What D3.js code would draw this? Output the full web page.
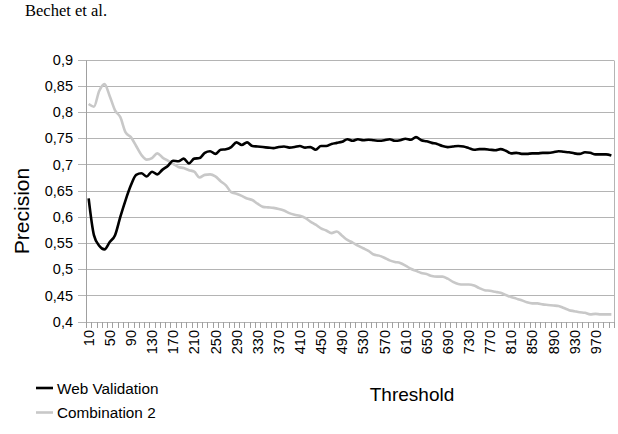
<!DOCTYPE html>
<html>
<head>
<meta charset="utf-8">
<script src="https://cdn.jsdelivr.net/npm/d3@7"></script>
<style>
  html, body { margin: 0; padding: 0; background: #fff; }
  svg { display: block; }
  text { font-family: "Liberation Sans", Arial, sans-serif; fill: #000; }
</style>
</head>
<body>
<svg id="chart" width="618" height="434"></svg>
<script>
// ---- data ----
const thresholds = d3.range(10, 1001, 10); // 10..1000
const webValidation = [
  0.635, 0.565, 0.545, 0.538, 0.552, 0.565, 0.600, 0.632, 0.660, 0.680,
  0.683, 0.677, 0.686, 0.681, 0.690, 0.697, 0.707, 0.706, 0.711, 0.702,
  0.711, 0.712, 0.722, 0.725, 0.720, 0.728, 0.729, 0.733, 0.742, 0.737,
  0.742, 0.735, 0.734, 0.733, 0.732, 0.731, 0.733, 0.734, 0.732, 0.733,
  0.735, 0.732, 0.733, 0.728, 0.735, 0.735, 0.739, 0.741, 0.743, 0.748,
  0.745, 0.748, 0.746, 0.747, 0.746, 0.745, 0.746, 0.748, 0.745, 0.746,
  0.749, 0.747, 0.752, 0.746, 0.744, 0.741, 0.739, 0.735, 0.733, 0.734,
  0.735, 0.734, 0.731, 0.728, 0.729, 0.729, 0.728, 0.727, 0.729, 0.726,
  0.721, 0.722, 0.720, 0.720, 0.721, 0.721, 0.722, 0.722, 0.723, 0.725,
  0.724, 0.723, 0.721, 0.720, 0.723, 0.722, 0.719, 0.719, 0.719, 0.717
];
const combination2 = [
  0.815, 0.810, 0.840, 0.853, 0.830, 0.803, 0.790, 0.761, 0.752, 0.735,
  0.718, 0.709, 0.712, 0.721, 0.713, 0.707, 0.701, 0.695, 0.693, 0.689,
  0.686, 0.675, 0.680, 0.681, 0.677, 0.668, 0.660, 0.647, 0.644, 0.640,
  0.635, 0.632, 0.625, 0.619, 0.618, 0.617, 0.615, 0.612, 0.607, 0.604,
  0.602, 0.598, 0.591, 0.585, 0.578, 0.574, 0.569, 0.572, 0.564, 0.556,
  0.551, 0.545, 0.540, 0.535, 0.528, 0.526, 0.522, 0.517, 0.514, 0.512,
  0.507, 0.501, 0.497, 0.493, 0.491, 0.487, 0.486, 0.486, 0.482, 0.476,
  0.472, 0.471, 0.471, 0.469, 0.464, 0.460, 0.459, 0.457, 0.455, 0.451,
  0.447, 0.444, 0.441, 0.437, 0.435, 0.435, 0.433, 0.432, 0.431, 0.430,
  0.426, 0.422, 0.420, 0.418, 0.417, 0.414, 0.415, 0.414, 0.414, 0.414
];
const yTicks = [0.4, 0.45, 0.5, 0.55, 0.6, 0.65, 0.7, 0.75, 0.8, 0.85, 0.9];
const xLabelEvery = 4;
const seriesNames = ["Web Validation", "Combination 2"];
const seriesColors = ["#000000", "#c8c8c8"];

// ---- layout ----
const svg = d3.select("#chart");
const L = 86, R = 614, T = 59.5, B = 321.7;

const x = d3.scalePoint().domain(thresholds).range([L, R]).padding(0.5);
const y = d3.scaleLinear().domain([0.4, 0.9]).range([B, T]);
const step = x.step();

// header text
svg.append("text").attr("x", 25).attr("y", 16)
  .style("font-family", "'Liberation Serif', 'Times New Roman', serif")
  .style("font-size", "16.5px").text("Bechet et al.");

// gridlines + y ticks
const grid = svg.append("g");
grid.selectAll("line").data(yTicks).join("line")
  .attr("x1", L - 8).attr("x2", R)
  .attr("y1", d => Math.round(y(d)) + 0.5).attr("y2", d => Math.round(y(d)) + 0.5)
  .attr("stroke", "#b4b4b4").attr("stroke-width", 1);

// right border
svg.append("line").attr("x1", R + 0.5).attr("x2", R + 0.5)
  .attr("y1", Math.round(y(0.9)) + 0.5).attr("y2", Math.round(y(0.4)) + 0.5)
  .attr("stroke", "#b4b4b4");
// y axis line
svg.append("line").attr("x1", L + 0.5).attr("x2", L + 0.5)
  .attr("y1", Math.round(y(0.9)) + 0.5).attr("y2", Math.round(y(0.4)) + 0.5)
  .attr("stroke", "#a0a0a0");

// y tick labels
svg.append("g").selectAll("text").data(yTicks).join("text")
  .attr("x", 73).attr("y", d => y(d))
  .attr("dy", "0.36em").attr("text-anchor", "end")
  .style("font-size", "14.5px")
  .text(d => d3.format(".2~f")(d).replace(".", ","));

// x axis minor ticks at category boundaries
const bounds = thresholds.map(d => x(d) - step / 2).concat([x(thresholds[thresholds.length - 1]) + step / 2]);
svg.append("g").selectAll("line").data(bounds).join("line")
  .attr("x1", d => Math.round(d) + 0.5).attr("x2", d => Math.round(d) + 0.5)
  .attr("y1", Math.round(B)).attr("y2", Math.round(B) + 6)
  .attr("stroke", "#a0a0a0");

// x labels
svg.append("g").selectAll("text")
  .data(thresholds.filter((d, i) => i % xLabelEvery === 0)).join("text")
  .attr("transform", d => `translate(${x(d)},330) rotate(-90)`)
  .attr("text-anchor", "end").attr("dy", "0.36em")
  .style("font-size", "14.5px")
  .text(d => d);

// lines
const series = [webValidation, combination2];
const lineGen = d3.line()
  .x((d, i) => x(thresholds[i]))
  .y(d => y(d))
  .curve(d3.curveMonotoneX);
svg.append("g").selectAll("path").data(series.slice().reverse()).join("path")
  .attr("d", lineGen)
  .attr("fill", "none")
  .attr("stroke", (d, i) => seriesColors[series.length - 1 - i])
  .attr("stroke-width", 2.6)
  .attr("stroke-linejoin", "round");

// axis titles
svg.append("text").attr("transform", "translate(29,211) rotate(-90)")
  .attr("text-anchor", "middle").style("font-size", "21px").text("Precision");
svg.append("text").attr("x", 412).attr("y", 401)
  .attr("text-anchor", "middle").style("font-size", "19px").text("Threshold");

// legend
const leg = svg.append("g");
seriesNames.forEach((name, i) => {
  const cy = 388 + i * 24.5;
  leg.append("line").attr("x1", 36).attr("x2", 53).attr("y1", cy).attr("y2", cy)
    .attr("stroke", seriesColors[i]).attr("stroke-width", 2.6);
  leg.append("text").attr("x", 57).attr("y", cy).attr("dy", "0.36em")
    .style("font-size", "15.3px").text(name);
});
</script>
</body>
</html>
